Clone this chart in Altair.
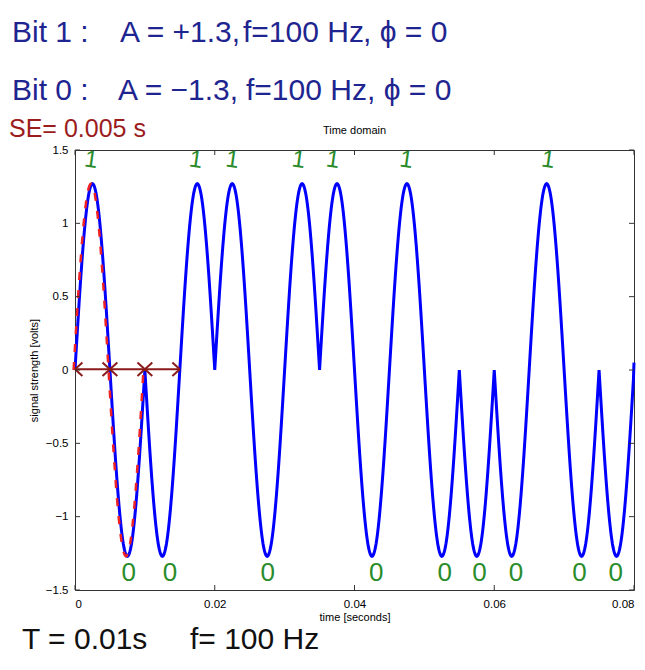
import altair as alt
import numpy as np
import pandas as pd

# ---- data ----
bits = [1, 0, 0, 1, 1, 0, 1, 1, 0, 1, 0, 0, 0, 1, 0, 0]
amp_one = 1.27
amp_zero = -1.27
freq_hz = 100
symbol_time = 0.005
end_value = 0.05

one_marks_t = [0.0023, 0.0173, 0.0225, 0.0320, 0.0369, 0.0474, 0.0677]
zero_marks_t = [0.0077, 0.0136, 0.0276, 0.0431, 0.0529, 0.0579, 0.0631, 0.0722, 0.0774]
arrow_left_t = [0.0, 0.005, 0.010]
arrow_right_t = [0.005, 0.010, 0.015]

x_ticks = [0, 0.02, 0.04, 0.06, 0.08]
y_ticks = [-1.5, -1, -0.5, 0, 0.5, 1, 1.5]

notes = [
    "Bit 1 :", "A = +1.3,", "f=100 Hz", ", ϕ = 0",
    "Bit 0 :", "A = −1.3,", "f=100 Hz", ", ϕ = 0",
    "SE= 0.005 s",
    "T = 0.01s", "f= 100 Hz",
]
chart_title = "Time domain"

# ---- build tables ----
n = 60
wave = []
for k, b in enumerate(bits):
    A = amp_one if b else amp_zero
    for i in range(n):
        t = k * symbol_time + i * symbol_time / n
        wave.append({"t": t, "v": A * np.sin(2 * np.pi * freq_hz * (t - k * symbol_time))})
wave.append({"t": 0.08, "v": end_value})
wave_df = pd.DataFrame(wave)

ref_t = np.linspace(0, 2 * symbol_time, 80)
ref_df = pd.DataFrame({"t": ref_t - 0.0002, "v": amp_one * np.sin(2 * np.pi * freq_hz * ref_t)})

ones_df = pd.DataFrame({"t": one_marks_t, "v": [1.43] * len(one_marks_t)})
zeros_df = pd.DataFrame({"t": zero_marks_t, "v": [-1.385] * len(zero_marks_t)})
arrl_df = pd.DataFrame({"t": arrow_left_t, "v": [0.005] * len(arrow_left_t)})
arrr_df = pd.DataFrame({"t": arrow_right_t, "v": [0.005] * len(arrow_right_t)})
xt_df = pd.DataFrame({"t": x_ticks})
yt_df = pd.DataFrame({"v": y_ticks})

W, H = 559, 440
xs = alt.Scale(domain=[0, 0.08], nice=False, zero=False)
ys = alt.Scale(domain=[-1.5, 1.5], nice=False, zero=False)
FONT = "Liberation Sans"
HAND = "Liberation Sans"

X = alt.X("t:Q", scale=xs,
          axis=alt.Axis(values=x_ticks, format="~g", title="time [seconds]",
                        labelPadding=8, titlePadding=2, labelFontSize=11.5))
Y = alt.Y("v:Q", scale=ys,
          axis=alt.Axis(values=y_ticks, format="~g", title="signal strength [volts]",
                        labelPadding=7, titlePadding=6, labelFontSize=11.5))

wave_line = alt.Chart(wave_df).mark_line(color="#0000ff", strokeWidth=3).encode(x=X, y=Y)
ref_line = alt.Chart(ref_df).mark_line(color="#ee2222", strokeWidth=2.5,
                                        strokeDash=[8, 10]).encode(x="t:Q", y="v:Q")

arrow_color = "#8b1a1a"
arrow_line = alt.Chart(pd.DataFrame({"t": [0.0], "t2": [0.015], "v": [0.005]})).mark_rule(
    color=arrow_color, strokeWidth=2).encode(x="t:Q", x2="t2:Q", y="v:Q")
arr_l = alt.Chart(arrl_df).mark_point(shape="M0,0 L1,-0.9 M0,0 L1,0.9", filled=False,
                                      color=arrow_color, strokeWidth=2, size=220,
                                      opacity=1).encode(x="t:Q", y="v:Q")
arr_r = alt.Chart(arrr_df).mark_point(shape="M0,0 L-1,-0.9 M0,0 L-1,0.9", filled=False,
                                      color=arrow_color, strokeWidth=2, size=220,
                                      opacity=1).encode(x="t:Q", y="v:Q")

green = "#2a8c2a"
ones_txt = alt.Chart(ones_df).mark_text(text="1", color=green, font=HAND, fontSize=24,
                                        angle=8).encode(x="t:Q", y="v:Q")
zeros_txt = alt.Chart(zeros_df).mark_text(text="0", color=green, font=HAND, fontSize=26
                                          ).encode(x="t:Q", y="v:Q")

tick_col = "#333333"
top_ticks = alt.Chart(xt_df).mark_rule(color=tick_col).encode(
    x="t:Q", y=alt.value(0), y2=alt.value(5))
bot_ticks = alt.Chart(xt_df).mark_rule(color=tick_col).encode(
    x="t:Q", y=alt.value(H), y2=alt.value(H - 5))
left_ticks = alt.Chart(yt_df).mark_rule(color=tick_col).encode(
    y="v:Q", x=alt.value(0), x2=alt.value(5))
right_ticks = alt.Chart(yt_df).mark_rule(color=tick_col).encode(
    y="v:Q", x=alt.value(W), x2=alt.value(W - 5))

blue_ink = "#1f2590"
red_ink = "#9b1c1c"
black_ink = "#111111"
note_layout = [
    (-63, -117, blue_ink, 30), (45, -117, blue_ink, 30), (168, -117, blue_ink, 30), (288, -117, blue_ink, 30),
    (-63, -59, blue_ink, 30), (43, -59, blue_ink, 30), (171, -59, blue_ink, 30), (292, -59, blue_ink, 30),
    (-66, -21, red_ink, 25),
    (-53, 490, black_ink, 30), (115, 490, black_ink, 30),
]
note_layers = []
for txt, (px, py, col, fs) in zip(notes, note_layout):
    note_layers.append(
        alt.Chart(pd.DataFrame({"a": [0]})).mark_text(
            text=txt, align="left", baseline="middle", font=HAND, fontSize=fs,
            color=col).encode(x=alt.value(px), y=alt.value(py))
    )
title_layer = alt.Chart(pd.DataFrame({"a": [0]})).mark_text(
    text=chart_title, align="center", baseline="middle", font=FONT, fontSize=11,
    color="#000").encode(x=alt.value(W / 2), y=alt.value(-19))

chart = alt.layer(
    wave_line, ref_line, arrow_line, arr_l, arr_r, ones_txt, zeros_txt,
    top_ticks, bot_ticks, left_ticks, right_ticks, title_layer, *note_layers
).properties(
    width=W, height=H,
    autosize=alt.AutoSizeParams(type="none"),
    padding={"left": 67, "top": 142, "right": 2, "bottom": 70},
).configure_view(
    stroke="#333333", strokeWidth=1
).configure_axis(
    grid=False, ticks=False, domain=False, labelFont=FONT, labelFontSize=11,
    labelColor="#000", titleFont=FONT, titleFontSize=11, titleFontWeight="normal",
    titleColor="#000"
)

chart.save("out.html", embed_options={"renderer": "svg", "actions": False})
